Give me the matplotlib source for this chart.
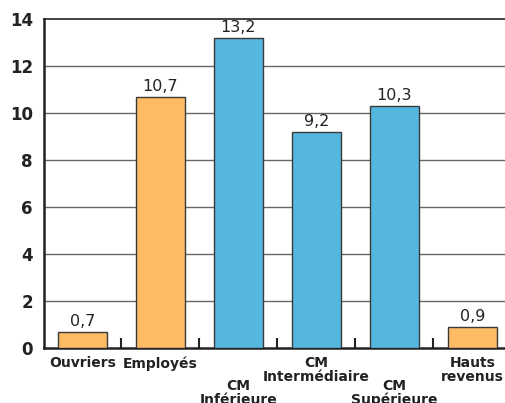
import matplotlib
matplotlib.use("Agg")
import matplotlib.pyplot as plt

categories = ["Ouvriers", "Employés", "CM\nInférieure", "CM\nIntermédiaire",
              "CM\nSupérieure", "Hauts\nrevenus"]
values = [0.7, 10.7, 13.2, 9.2, 10.3, 0.9]
value_labels = ["0,7", "10,7", "13,2", "9,2", "10,3", "0,9"]
groups = ["orange", "orange", "blue", "blue", "blue", "orange"]
yticks = [0, 2, 4, 6, 8, 10, 12, 14]

palette = {"orange": "#FDBB63", "blue": "#55B7E0"}
# label rows: 0 = just under the axis, 1 = shifted lower
label_row = [0, 0, 1, 0, 1, 0]

fig = plt.figure(figsize=(5.05, 4.03), dpi=100)
ax = fig.add_axes([44 / 505, 55 / 403, 1 - 44 / 505, 329 / 403])

x = list(range(len(categories)))
ax.bar(x, values, width=0.63, color=[palette[g] for g in groups],
       edgecolor="#3a3a3a", linewidth=1.0, zorder=3)

for xi, v, lab in zip(x, values, value_labels):
    ax.text(xi, v + 0.12, lab, ha="center", va="bottom", fontsize=11.5,
            color="#222222", zorder=4)

ax.set_xlim(-0.49, 5.42)
ax.set_ylim(0, 14)
ax.set_yticks(yticks)
ax.set_yticklabels([str(t) for t in yticks], fontsize=12, fontweight="bold",
                   color="#222222")
ax.tick_params(axis="y", length=0, pad=8)

# short inward separators between categories
ax.set_xticks([i + 0.5 for i in range(len(categories) - 1)])
ax.set_xticklabels([])
ax.tick_params(axis="x", direction="in", length=7, width=1.5, color="#222222")

for y in yticks[1:-1]:
    ax.axhline(y, color="#666666", linewidth=1.0, zorder=1)

for s in ["left", "bottom"]:
    ax.spines[s].set_linewidth(1.8)
    ax.spines[s].set_color("#222222")
ax.spines["top"].set_linewidth(1.2)
ax.spines["top"].set_color("#222222")
ax.spines["right"].set_visible(False)

for xi, lab, row in zip(x, categories, label_row):
    ax.annotate(lab, xy=(xi, 0), xycoords="data",
                xytext=(0, -6 - 16 * row), textcoords="offset points",
                ha="center", va="top", fontsize=10, fontweight="bold",
                color="#222222", linespacing=1.0, annotation_clip=False)

fig.savefig("out.png", dpi=100)
